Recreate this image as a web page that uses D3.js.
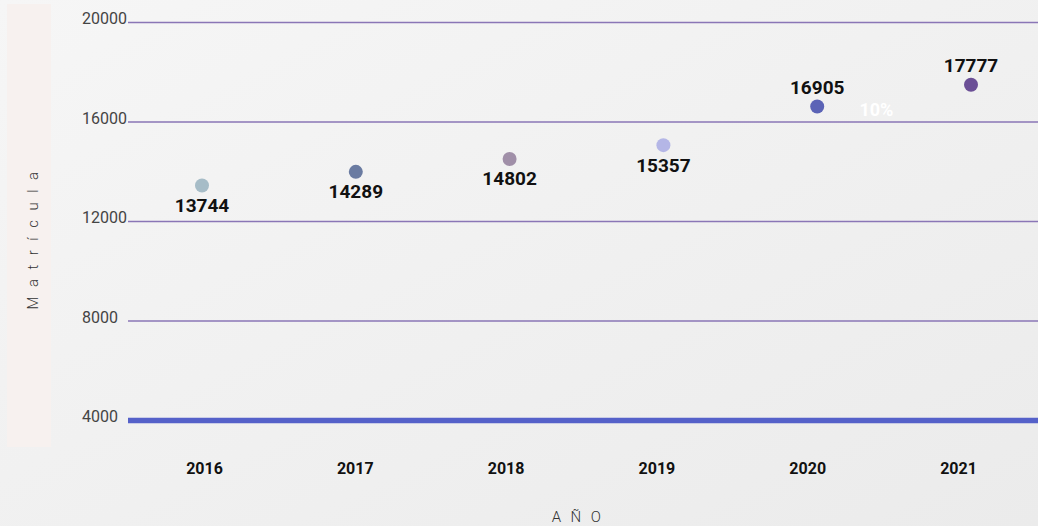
<!DOCTYPE html>
<meta charset="utf-8">

<!-- Load d3.js -->
<script src="https://d3js.org/d3.v7.min.js"></script>

<style>
body {
    margin: 0;
    overflow: hidden;
}
text {
    font-family: Roboto, "Liberation Sans", sans-serif;
}
.ytick text {
    font-size: 16px;
    font-weight: 400;
    fill: #444;
}
.xtick text {
    font-size: 16px;
    font-weight: 700;
    fill: #111;
}
.value {
    font-size: 19px;
    font-weight: 700;
    fill: #111;
}
.axis-title {
    font-size: 15px;
    font-weight: 300;
    fill: #333;
    letter-spacing: 9.5px;
}
.growth {
    font-size: 18px;
    font-weight: 700;
    fill: #fff;
}
</style>

<div id="chart"></div>

<script>
// data
var years = ["2016", "2017", "2018", "2019", "2020", "2021"];
var matricula = [13744, 14289, 14802, 15357, 16905, 17777];
var dotColors = ["#a6bcc7", "#6a7ba1", "#a08fa8", "#b4b6e6", "#5b63b6", "#6b4f96"];
var yTicks = [4000, 8000, 12000, 16000, 20000];
var growthLabel = "10%";

var width = 1038,
    height = 526;

var svg = d3.select("#chart")
    .append("svg")
    .attr("width", width)
    .attr("height", height);

// background gradient
var grad = svg.append("defs")
    .append("linearGradient")
    .attr("id", "bg")
    .attr("x1", "0").attr("y1", "0")
    .attr("x2", "1").attr("y2", "1");
grad.append("stop").attr("offset", "0%").attr("stop-color", "#f6f6f6");
grad.append("stop").attr("offset", "100%").attr("stop-color", "#ebebeb");

svg.append("rect")
    .attr("width", width)
    .attr("height", height)
    .attr("fill", "url(#bg)");

// panel behind the y title
svg.append("rect")
    .attr("x", 7)
    .attr("y", 4)
    .attr("width", 44)
    .attr("height", 443)
    .attr("fill", "#f7f1ef");

// scales (grid and points are drawn on slightly different ranges)
var y = d3.scaleLinear().domain([4000, 20000]).range([420, 22]);
var yDot = d3.scaleLinear().domain([4000, 20000]).range([428.6, 29.3]);
var xDot = d3.scalePoint().domain(years).range([202, 971]);
var xAxisScale = d3.scalePoint().domain(years).range([204, 958]);

// horizontal grid lines + y labels
var yAxis = svg.append("g")
    .attr("class", "ytick")
    .attr("transform", "translate(128,0)")
    .call(d3.axisLeft(y).tickValues(yTicks).tickSize(-(width - 128)).tickFormat(d3.format("d")))
    .attr("font-size", null)
    .attr("font-family", null);

yAxis.select(".domain").remove();

yAxis.selectAll(".tick line")
    .attr("stroke", function(d) { return d === 4000 ? "#5561c9" : "#8a76b6"; })
    .attr("stroke-width", function(d) { return d === 4000 ? 5.3 : 1.3; });

yAxis.selectAll(".tick text")
    .attr("x", -46)
    .attr("dy", 1.5)
    .attr("fill", null)
    .style("text-anchor", "start");

// x labels
var xAxis = svg.append("g")
    .attr("class", "xtick")
    .attr("transform", "translate(0,459.6)")
    .call(d3.axisBottom(xAxisScale).tickSize(0))
    .attr("font-size", null)
    .attr("font-family", null);

xAxis.select(".domain").remove();
xAxis.selectAll(".tick text").attr("fill", null);

// points
var pts = matricula.map(function(v, i) { return {year: years[i], value: v, color: dotColors[i]}; });

svg.selectAll(".dot")
    .data(pts)
    .enter()
    .append("circle")
    .attr("class", "dot")
    .attr("cx", function(d) { return xDot(d.year); })
    .attr("cy", function(d) { return yDot(d.value); })
    .attr("r", 7)
    .attr("fill", function(d) { return d.color; });

// value labels: below the point, above it once past 16000
svg.selectAll(".value")
    .data(pts)
    .enter()
    .append("text")
    .attr("class", "value")
    .attr("text-anchor", "middle")
    .attr("x", function(d) { return xDot(d.year); })
    .attr("y", function(d) { return yDot(d.value) + (d.value > 16000 ? -12.7 : 26.4); })
    .text(function(d) { return d.value; });

// growth note
svg.append("text")
    .attr("class", "growth")
    .attr("text-anchor", "middle")
    .attr("x", xDot("2020") + xDot.step() * 0.385)
    .attr("y", yDot(matricula[4]) + 9.5)
    .text(growthLabel);

// axis titles
svg.append("text")
    .attr("class", "axis-title")
    .attr("text-anchor", "middle")
    .attr("x", 581)
    .attr("y", 522)
    .text("AÑO");

svg.append("text")
    .attr("class", "axis-title")
    .attr("text-anchor", "middle")
    .attr("transform", "translate(37.5,236) rotate(-90)")
    .text("Matrícula");
</script>
